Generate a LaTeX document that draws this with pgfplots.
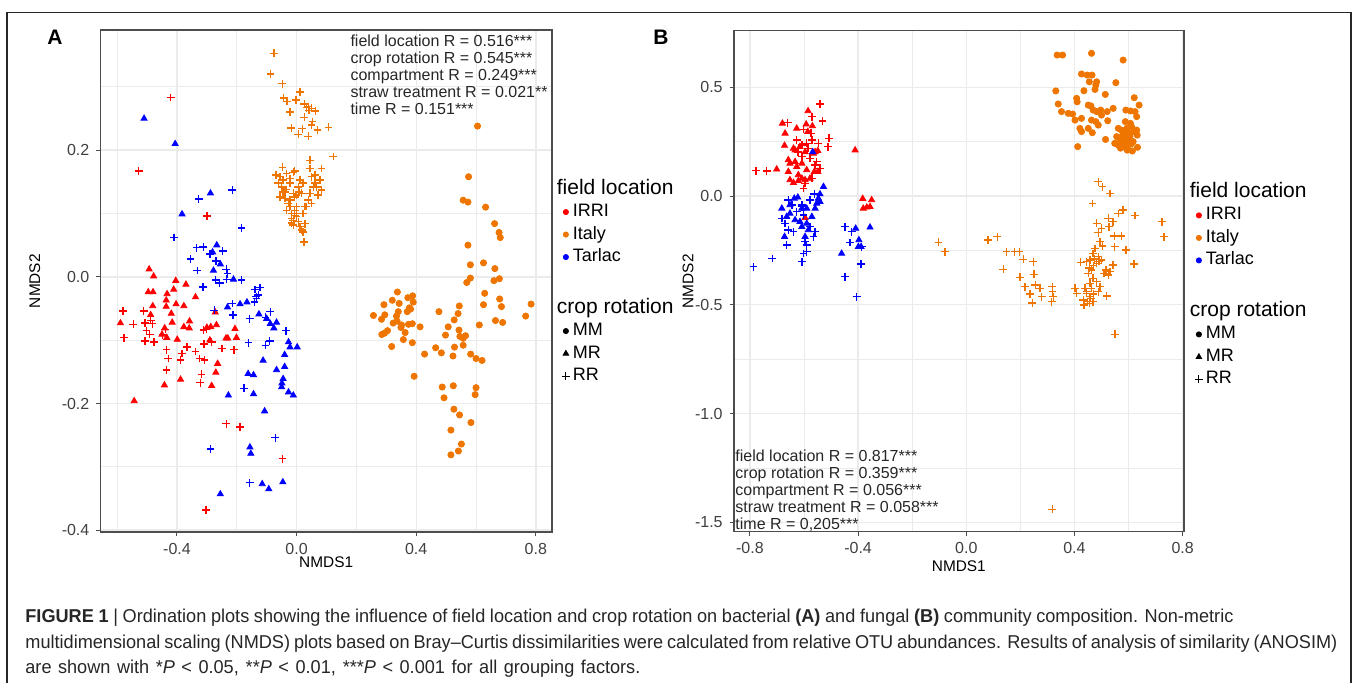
\documentclass[border=0pt]{standalone}
\usepackage{fontspec}
\usepackage{pgfplots}
\pgfplotsset{compat=1.18}
\setmainfont{Liberation Sans}
\newfontfamily\capfont[FakeStretch=0.975]{Liberation Sans}

\definecolor{irri}{HTML}{FF0000}
\definecolor{italy}{HTML}{EE7600}
\definecolor{tarlac}{HTML}{0000FF}
\definecolor{gridc}{HTML}{EBEBEB}
\definecolor{framec}{HTML}{4D4D4D}

\tikzset{
  ltitle/.style={font=\fontsize{10.5}{11}\selectfont},
  annot/.style={anchor=north west, align=left, inner sep=0pt, font=\fontsize{8}{8.5}\selectfont, text=black!85},
}

\pgfplotsset{
  nmds/.style={
    scale only axis,
    anchor=south west,
    tick align=outside,
    tick pos=left,
    major tick length=2pt,
    minor tick length=0pt,
    tick style={draw=black!70, line width=0.5pt},
    grid=both,
    major grid style={draw=gridc, line width=0.7pt},
    minor grid style={draw=gridc, line width=0.4pt},
    axis line style={draw=framec, line width=0.8pt},
    tick label style={font=\fontsize{8}{9}\selectfont, text=black!75},
    xlabel style={font=\fontsize{7.7}{9}\selectfont},
    ylabel style={font=\fontsize{7.7}{9}\selectfont},
    legend cell align=left,
    legend image code/.code={\path (0pt,0pt) (6.5pt,0pt); \draw[##1] plot coordinates {(5pt,0pt)};},
    legend style={draw=none, fill=none, inner sep=0pt, row sep=1.75pt, column sep=1pt,
      font=\fontsize{9}{10}\selectfont,
      nodes={inner sep=0.5pt, text height=6.5pt, text depth=2pt}},
  },
  ptri/.style={only marks, mark=triangle*, mark size=1.75pt},
  pplus/.style={only marks, mark=+, mark size=1.95pt, line width=0.7pt},
  pdot/.style={only marks, mark=*, mark size=1.55pt},
}

\begin{document}
\begin{tikzpicture}
\useasboundingbox (0,0) rectangle (678.5pt,341.5pt);

% outer frame of the figure
\draw[line width=0.7pt, black!85] (3.5pt,0) -- (3.5pt,335.2pt) -- (675.5pt,335.2pt) -- (675.5pt,0);

\node[font=\bfseries\fontsize{10.5}{12}\selectfont] at (27.5pt,323pt) {A};
\node[font=\bfseries\fontsize{10.5}{12}\selectfont] at (330.5pt,323pt) {B};

% ---------------- panel A: bacteria ----------------
\begin{axis}[nmds,
  at={(50.2pt,75.35pt)}, width=225.8pt, height=251.15pt,
  xmin=-0.656, xmax=0.854, ymin=-0.4033, ymax=0.3897,
  xtick={-0.4,0,0.4,0.8}, xticklabels={-0.4,0.0,0.4,0.8},
  ytick={-0.4,-0.2,0,0.2}, yticklabels={-0.4,-0.2,0.0,0.2},
  minor xtick={-0.6,-0.2,0.2,0.6}, minor ytick={-0.3,-0.1,0.1,0.3},
  xlabel={NMDS1}, ylabel={NMDS2},
  xlabel style={at={(axis description cs:0.5,-0.06)}, anchor=center},
  ylabel style={at={(axis description cs:-0.145,0.5)}, anchor=center},
  legend style={at={(axis description cs:1.0066,0.702)}, anchor=north west},
]
\addlegendimage{empty legend}\addlegendentry[ltitle]{\hspace*{-8pt}field location}
\addlegendimage{mark=*, irri, mark size=1.3pt}\addlegendentry{IRRI}
\addlegendimage{mark=*, italy, mark size=1.3pt}\addlegendentry{Italy}
\addlegendimage{mark=*, tarlac, mark size=1.3pt}\addlegendentry{Tarlac}
\addlegendimage{empty legend}\addlegendentry[text depth=5.25pt]{~}
\addlegendimage{empty legend}\addlegendentry[ltitle]{\hspace*{-8pt}crop rotation}
\addlegendimage{mark=*, black, mark size=1.3pt}\addlegendentry{MM}
\addlegendimage{mark=triangle*, black, mark size=1.6pt}\addlegendentry{MR}
\addlegendimage{mark=+, black, mark size=2pt, line width=0.5pt}\addlegendentry{RR}

% Italy, MM
\addplot[pdot, color=italy, forget plot] table {
x y
0.605 0.238
0.575 0.158
0.557 0.121
0.573 0.118
0.632 0.110
0.662 0.084
0.677 0.070
0.681 0.062
0.573 0.050
0.581 0.019
0.625 0.022
0.663 0.013
0.581 -0.002
0.569 -0.009
0.660 -0.006
0.678 -0.003
0.629 -0.026
0.679 -0.035
0.625 -0.044
0.685 -0.047
0.544 -0.046
0.540 -0.058
0.527 -0.068
0.507 -0.079
0.498 -0.092
0.476 -0.055
0.784 -0.043
0.766 -0.062
0.665 -0.069
0.689 -0.072
0.611 -0.076
0.543 -0.084
0.546 -0.094
0.557 -0.097
0.565 -0.093
0.557 -0.108
0.528 -0.111
0.523 -0.125
0.465 -0.112
0.484 -0.120
0.428 -0.122
0.582 -0.122
0.600 -0.129
0.620 -0.132
0.393 -0.157
0.487 -0.174
0.493 -0.191
0.524 -0.172
0.600 -0.175
0.597 -0.186
0.526 -0.209
0.545 -0.218
0.583 -0.230
0.516 -0.242
0.551 -0.264
0.541 -0.275
0.516 -0.281
0.337 -0.024
0.320 -0.037
0.343 -0.042
0.292 -0.044
0.295 -0.060
0.284 -0.067
0.257 -0.061
0.372 -0.033
0.388 -0.030
0.390 -0.040
0.377 -0.049
0.370 -0.055
0.381 -0.051
0.340 -0.055
0.334 -0.062
0.323 -0.073
0.336 -0.070
0.351 -0.076
0.349 -0.080
0.374 -0.075
0.387 -0.074
0.363 -0.088
0.304 -0.085
0.294 -0.089
0.285 -0.091
0.357 -0.099
0.387 -0.104
0.318 -0.110
0.413 -0.079
};

% Italy, RR
\addplot[pplus, color=italy, forget plot] table {
x y
-0.075 0.353
-0.087 0.320
-0.048 0.305
0.011 0.292
-0.043 0.282
-0.032 0.277
-0.002 0.279
0.026 0.273
0.039 0.269
0.050 0.266
0.042 0.263
0.063 0.262
0.033 0.267
-0.022 0.260
0.026 0.252
0.053 0.245
0.050 0.240
-0.018 0.235
0.019 0.234
0.070 0.232
0.107 0.236
0.006 0.225
0.039 0.222
0.1225 0.190
0.045 0.184
0.0835 0.171
-0.047 0.173
-0.006 0.167
-0.011 0.165
-0.069 0.161
-0.056 0.158
-0.034 0.163
-0.045 0.153
-0.022 0.155
0.045 0.171
0.061 0.161
0.050 0.158
0.078 0.153
0.067 0.142
0.0835 0.137
0.072 0.129
0.045 0.132
0.039 0.121
0.050 0.116
0.033 0.111
0.011 0.153
0.022 0.148
0.006 0.142
0.009 0.134
0.017 0.132
0.000 0.129
-0.011 0.132
-0.061 0.148
-0.050 0.142
-0.045 0.134
-0.034 0.138
-0.056 0.126
-0.039 0.124
-0.028 0.116
-0.022 0.111
-0.034 0.105
-0.017 0.100
-0.006 0.097
-0.011 0.089
0.000 0.100
0.006 0.087
0.011 0.079
0.017 0.074
0.028 0.084
0.022 0.071
-0.011 0.082
-0.017 0.085
0.025 0.055
-0.022 0.148
-0.039 0.134
-0.006 0.126
-0.022 0.121
0.000 0.111
-0.006 0.105
0.000 0.095
-0.017 0.092
0.022 0.100
0.028 0.111
0.056 0.142
0.061 0.148
};

% IRRI, MR
\addplot[ptri, color=irri, forget plot] table {
x y
-0.493 0.012
-0.478 0.001
-0.404 -0.006
-0.370 -0.012
-0.411 -0.020
-0.433 -0.027
-0.338 -0.032
-0.496 -0.024
-0.480 -0.024
-0.436 -0.037
-0.436 -0.047
-0.403 -0.043
-0.377 -0.046
-0.481 -0.046
-0.419 -0.058
-0.488 -0.060
-0.416 -0.072
-0.589 -0.073
-0.358 -0.070
-0.377 -0.079
-0.359 -0.081
-0.441 -0.081
-0.450 -0.091
-0.434 -0.096
-0.399 -0.099
-0.287 -0.079
-0.268 -0.076
-0.272 -0.056
-0.290 -0.100
-0.236 -0.097
-0.201 -0.096
-0.206 -0.082
-0.264 -0.137
-0.270 -0.151
-0.388 -0.162
-0.442 -0.171
-0.284 -0.172
-0.543 -0.196
-0.230 -0.097
-0.300 -0.080
};

% IRRI, RR
\addplot[pplus, color=irri, forget plot] table {
x y
-0.421 0.283
-0.528 0.167
-0.300 0.096
-0.580 -0.054
-0.511 -0.054
-0.507 -0.073
-0.488 -0.069
-0.546 -0.075
-0.482 -0.074
-0.502 -0.085
-0.491 -0.091
-0.577 -0.096
-0.507 -0.101
-0.477 -0.103
-0.448 -0.092
-0.439 -0.083
-0.435 -0.115
-0.429 -0.129
-0.435 -0.147
-0.388 -0.131
-0.383 -0.121
-0.366 -0.111
-0.338 -0.118
-0.324 -0.129
-0.308 -0.131
-0.318 -0.154
-0.322 -0.167
-0.310 -0.106
-0.311 -0.084
-0.301 -0.083
-0.284 -0.103
-0.249 -0.113
-0.209 -0.115
-0.235 -0.232
-0.189 -0.237
-0.047 -0.287
-0.303 -0.368
};

% Tarlac, MR
\addplot[ptri, color=tarlac, forget plot] table {
x y
-0.510 0.250
-0.406 0.210
-0.288 0.132
-0.383 0.099
-0.267 0.050
-0.281 0.039
-0.255 0.020
-0.278 0.010
-0.211 -0.004
-0.231 -0.048
-0.189 -0.043
-0.166 -0.040
-0.126 -0.059
-0.100 -0.066
-0.088 -0.074
-0.067 -0.072
-0.076 -0.081
-0.027 -0.103
-0.022 -0.111
0.002 -0.111
-0.040 -0.123
-0.112 -0.132
-0.067 -0.147
-0.040 -0.142
-0.045 -0.161
-0.049 -0.168
-0.050 -0.174
-0.027 -0.182
-0.011 -0.187
-0.162 -0.153
-0.144 -0.155
-0.228 -0.187
-0.144 -0.185
-0.107 -0.212
-0.156 -0.269
-0.153 -0.279
-0.115 -0.327
-0.093 -0.335
-0.046 -0.324
-0.255 -0.343
};

% Tarlac, RR
\addplot[pplus, color=tarlac, forget plot] table {
x y
-0.215 0.137
-0.327 0.123
-0.184 0.077
-0.410 0.062
-0.334 0.046
-0.312 0.047
-0.290 0.036
-0.247 0.041
-0.355 0.028
-0.270 0.025
-0.332 0.010
-0.235 0.012
-0.231 0.005
-0.271 -0.005
-0.257 -0.010
-0.234 -0.004
-0.184 -0.005
-0.313 -0.016
-0.139 -0.020
-0.123 -0.017
-0.128 -0.029
-0.134 -0.034
-0.275 -0.053
-0.215 -0.042
-0.212 -0.060
-0.157 -0.066
-0.141 -0.040
-0.135 -0.031
-0.104 -0.064
-0.088 -0.055
-0.035 -0.085
-0.161 -0.104
-0.104 -0.108
-0.090 -0.101
-0.176 -0.176
-0.288 -0.272
-0.071 -0.254
-0.157 -0.325
};

\node[annot] at (axis description cs:0.553,0.99) {field location R = 0.516***\\crop rotation R = 0.545***\\compartment R = 0.249***\\straw treatment R = 0.021**\\time R = 0.151***};
\end{axis}

% ---------------- panel B: fungi ----------------
\begin{axis}[nmds,
  at={(366.85pt,75.65pt)}, width=225.15pt, height=250.5pt,
  xmin=-0.86, xmax=0.805, ymin=-1.543, ymax=0.76,
  xtick={-0.8,-0.4,0,0.4,0.8}, xticklabels={-0.8,-0.4,0.0,0.4,0.8},
  ytick={-1.5,-1,-0.5,0,0.5}, yticklabels={-1.5,-1.0,-0.5,0.0,0.5},
  minor xtick={-0.6,-0.2,0.2,0.6}, minor ytick={-1.25,-0.75,-0.25,0.25},
  xlabel={NMDS1}, ylabel={NMDS2},
  xlabel style={at={(axis description cs:0.5,-0.068)}, anchor=center},
  ylabel style={at={(axis description cs:-0.1015,0.5)}, anchor=center},
  legend style={at={(axis description cs:1.0089,0.696)}, anchor=north west},
]
\addlegendimage{empty legend}\addlegendentry[ltitle]{\hspace*{-8pt}field location}
\addlegendimage{mark=*, irri, mark size=1.3pt}\addlegendentry{IRRI}
\addlegendimage{mark=*, italy, mark size=1.3pt}\addlegendentry{Italy}
\addlegendimage{mark=*, tarlac, mark size=1.3pt}\addlegendentry{Tarlac}
\addlegendimage{empty legend}\addlegendentry[text depth=5.25pt]{~}
\addlegendimage{empty legend}\addlegendentry[ltitle]{\hspace*{-8pt}crop rotation}
\addlegendimage{mark=*, black, mark size=1.3pt}\addlegendentry{MM}
\addlegendimage{mark=triangle*, black, mark size=1.6pt}\addlegendentry{MR}
\addlegendimage{mark=+, black, mark size=2pt, line width=0.5pt}\addlegendentry{RR}

% Italy, MM
\addplot[pdot, color=italy, forget plot] table {
x y
0.336 0.648
0.356 0.648
0.463 0.656
0.580 0.625
0.426 0.561
0.447 0.556
0.465 0.556
0.455 0.525
0.482 0.525
0.479 0.510
0.476 0.490
0.553 0.521
0.435 0.484
0.514 0.467
0.331 0.483
0.408 0.449
0.410 0.433
0.340 0.423
0.352 0.388
0.377 0.380
0.393 0.377
0.402 0.349
0.426 0.357
0.420 0.311
0.426 0.296
0.451 0.311
0.466 0.291
0.451 0.418
0.461 0.414
0.469 0.395
0.482 0.388
0.497 0.395
0.521 0.388
0.543 0.403
0.463 0.349
0.479 0.342
0.488 0.326
0.500 0.372
0.523 0.346
0.621 0.452
0.639 0.418
0.590 0.395
0.607 0.391
0.630 0.365
0.624 0.388
0.562 0.311
0.574 0.303
0.593 0.311
0.611 0.319
0.630 0.303
0.632 0.280
0.556 0.273
0.568 0.257
0.586 0.265
0.605 0.273
0.617 0.250
0.599 0.234
0.580 0.227
0.562 0.234
0.595 0.211
0.614 0.207
0.633 0.224
0.549 0.242
0.578 0.280
0.602 0.291
0.620 0.296
0.588 0.342
0.607 0.334
0.515 0.260
0.412 0.227
0.590 0.250
0.575 0.245
0.610 0.240
0.600 0.260
0.585 0.290
0.570 0.220
};

% Italy, RR
\addplot[pplus, color=italy, forget plot] table {
x y
0.488 0.066
0.504 0.043
0.531 0.012
0.467 -0.034
0.580 -0.064
0.562 -0.080
0.624 -0.090
0.525 -0.102
0.543 -0.118
0.482 -0.125
0.500 -0.148
0.528 -0.141
0.488 -0.169
0.724 -0.118
0.731 -0.187
0.547 -0.184
0.574 -0.184
0.549 -0.233
0.590 -0.248
0.620 -0.312
0.543 -0.317
0.519 -0.459
0.494 -0.210
0.504 -0.230
0.476 -0.241
0.469 -0.264
0.488 -0.279
0.500 -0.294
0.482 -0.310
0.457 -0.294
0.423 -0.305
0.445 -0.302
0.463 -0.340
0.451 -0.355
0.469 -0.378
0.482 -0.394
0.457 -0.401
0.439 -0.424
0.463 -0.424
0.445 -0.447
0.457 -0.463
0.433 -0.478
0.469 -0.486
0.435 -0.501
0.455 -0.493
0.488 -0.440
0.402 -0.424
0.408 -0.447
0.509 -0.355
0.525 -0.363
0.516 -0.340
0.531 -0.348
0.494 -0.417
0.470 -0.320
0.455 -0.330
0.490 -0.300
0.475 -0.290
0.445 -0.440
0.470 -0.450
0.460 -0.470
0.448 -0.485
-0.103 -0.213
-0.079 -0.256
0.081 -0.202
0.115 -0.187
0.149 -0.256
0.178 -0.256
0.196 -0.256
0.211 -0.291
0.248 -0.302
0.137 -0.337
0.198 -0.374
0.250 -0.360
0.217 -0.417
0.255 -0.409
0.272 -0.424
0.235 -0.450
0.279 -0.463
0.244 -0.491
0.318 -0.417
0.322 -0.463
0.316 -0.486
0.319 -0.440
0.550 -0.636
0.318 -1.440
};

% IRRI, MR
\addplot[ptri, color=irri, forget plot] table {
x y
-0.585 0.391
-0.680 0.334
-0.670 0.288
-0.672 0.232
-0.627 0.311
-0.592 0.330
-0.569 0.322
-0.586 0.296
-0.639 0.219
-0.633 0.211
-0.615 0.227
-0.596 0.203
-0.559 0.203
-0.549 0.208
-0.565 0.196
-0.658 0.166
-0.652 0.150
-0.633 0.158
-0.608 0.150
-0.627 0.135
-0.590 0.120
-0.562 0.112
-0.658 0.112
-0.621 0.097
-0.608 0.081
-0.596 0.074
-0.652 0.074
-0.639 0.061
-0.621 0.070
-0.578 0.081
-0.549 0.112
-0.701 0.123
-0.411 0.211
-0.383 -0.012
-0.350 -0.018
-0.381 -0.057
-0.368 -0.052
-0.356 -0.049
-0.596 -0.100
};

% IRRI, RR
\addplot[pplus, color=irri, forget plot] table {
x y
-0.541 0.423
-0.571 0.365
-0.532 0.345
-0.660 0.337
-0.602 0.306
-0.507 0.265
-0.512 0.227
-0.547 0.242
-0.571 0.257
-0.627 0.257
-0.608 0.234
-0.590 0.242
-0.574 0.288
-0.778 0.116
-0.738 0.115
-0.541 0.127
-0.553 0.158
-0.578 0.173
-0.571 0.081
-0.602 0.035
-0.596 0.058
-0.608 0.181
-0.623 0.203
-0.586 0.219
-0.559 0.143
};

% Tarlac, MR
\addplot[ptri, color=tarlac, forget plot] table {
x y
-0.528 0.043
-0.541 0.009
-0.547 -0.011
-0.553 -0.034
-0.559 -0.057
-0.541 -0.026
-0.636 -0.011
-0.623 -0.006
-0.682 -0.057
-0.652 -0.041
-0.664 -0.095
-0.652 -0.080
-0.633 -0.110
-0.615 -0.118
-0.608 -0.141
-0.590 -0.126
-0.584 -0.156
-0.571 -0.095
-0.596 -0.187
-0.672 -0.187
-0.461 -0.264
-0.409 -0.149
-0.356 -0.144
-0.397 -0.202
-0.399 -0.233
-0.389 -0.233
-0.568 0.203
-0.608 -0.057
-0.590 -0.057
};

% Tarlac, RR
\addplot[pplus, color=tarlac, forget plot] table {
x y
-0.658 -0.018
-0.645 -0.041
-0.608 -0.041
-0.578 -0.018
-0.562 0.009
-0.682 -0.103
-0.670 -0.126
-0.658 -0.156
-0.664 -0.225
-0.639 -0.164
-0.602 -0.087
-0.578 -0.141
-0.559 -0.164
-0.565 -0.187
-0.596 -0.210
-0.590 -0.225
-0.602 -0.264
-0.590 -0.256
-0.608 -0.302
-0.717 -0.287
-0.787 -0.325
-0.448 -0.141
-0.424 -0.164
-0.430 -0.214
-0.387 -0.233
-0.390 -0.313
-0.448 -0.371
-0.405 -0.463
-0.608 -0.049
-0.627 -0.072
};

\node[annot] at (axis description cs:0.003,0.165) {field location R = 0.817***\\crop rotation R = 0.359***\\compartment R = 0.056***\\straw treatment R = 0.058***\\time R = 0,205***};
\end{axis}

% ---------------- caption ----------------
\begin{scope}[every node/.style={anchor=base west, inner sep=0pt, text=black!85, font=\capfont\fontsize{9.3}{11}\selectfont}]
\node at (12.5pt,30pt) {\makebox[604pt][s]{\textbf{FIGURE 1} | Ordination plots showing the influence of field location and crop rotation on bacterial \textbf{(A)} and fungal \textbf{(B)} community composition. Non-metric}};
\node at (12.5pt,17pt) {\makebox[656pt][s]{multidimensional scaling (NMDS) plots based on Bray–Curtis dissimilarities were calculated from relative OTU abundances. Results of analysis of similarity (ANOSIM)}};
\node at (12.5pt,4.5pt) {\makebox[307.5pt][s]{are shown with *\textit{P} < 0.05, **\textit{P} < 0.01, ***\textit{P} < 0.001 for all grouping factors.}};
\end{scope}
\end{tikzpicture}
\end{document}
